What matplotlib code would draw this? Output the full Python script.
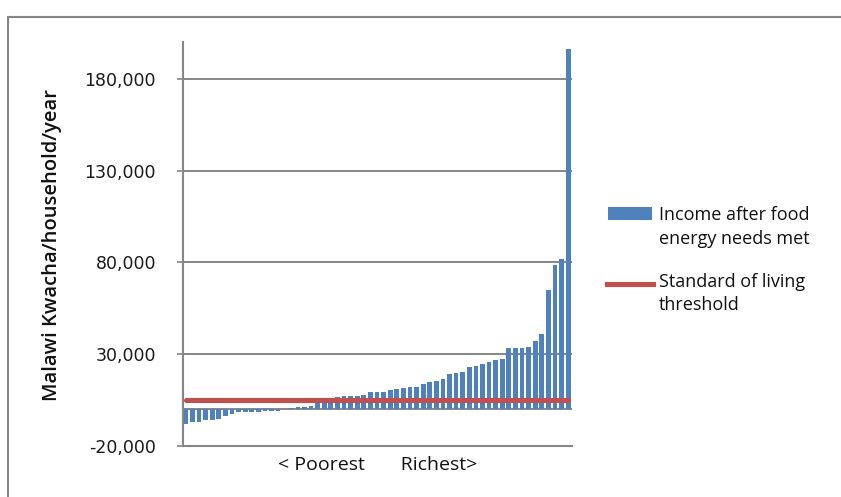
import matplotlib.pyplot as plt
import numpy as np
from matplotlib.patches import Rectangle
from matplotlib.lines import Line2D

# households sorted from poorest to richest
income = [-7800, -6900, -6900, -5600, -5600, -5100, -3500, -2400, -1500, -1500,
          -1500, -1500, -1000, -1000, -700, 100, 700, 1300, 1300, 1800,
          3800, 4500, 5500, 6700, 7200, 7200, 7200, 7800, 9400, 9400,
          9400, 10500, 11100, 11600, 12200, 12200, 13800, 14900, 15500, 16600,
          19300, 19800, 20400, 23100, 23700, 24700, 25800, 26900, 27500, 33500,
          33500, 33500, 34000, 37300, 41100, 65100, 78700, 82000, 196000]
threshold = 4800
yticks = [-20000, 30000, 80000, 130000, 180000]
legend_labels = [["Income after food", "energy needs met"],
                 ["Standard of living", "threshold"]]

W, H = 841, 497
blue = '#4F81BD'
red = '#C0504D'
gray = '#868686'
txt_font = 'Open Sans'


def fx(px):
    return px / W


def fy(py):
    return 1 - py / H


fig = plt.figure(figsize=(W / 100, H / 100), dpi=100)
ax = fig.add_axes([fx(182.5), fy(446), (571.5 - 182.5) / W, (446 - 42) / H])

x = np.arange(len(income))
ax.bar(x, income, width=0.72, color=blue, zorder=2)
ax.plot(x, np.full(len(x), threshold), color=red, lw=3.7,
        solid_capstyle='round', zorder=3)

ax.set_xlim(-0.5, len(income) - 0.5)
ax.set_ylim(-20000, 200000)
ax.set_yticks(yticks)
ax.set_yticklabels([f'{v:,}' for v in yticks], family='DejaVu Sans',
                   fontsize=12.5, color='#1a1a1a')
ax.set_xticks([])
ax.yaxis.grid(True, color=gray, lw=1.4, zorder=1)
ax.set_axisbelow(True)
ax.axhline(0, color=gray, lw=1.4, zorder=1)
for s in ['top', 'right']:
    ax.spines[s].set_visible(False)
for s in ['left', 'bottom']:
    ax.spines[s].set_color(gray)
    ax.spines[s].set_linewidth(1.5)
ax.tick_params(axis='y', length=4, width=1.2, color=gray, pad=15)

fig.text(fx(52), fy(245), 'Malawi Kwacha/household/year', rotation=90,
         ha='center', va='center', family=txt_font, fontsize=14.5,
         fontweight='semibold', color='#111111')
fig.text(fx(378), fy(465), '< Poorest       Richest>', ha='center', va='center',
         family=txt_font, fontsize=14, color='#111111')

# legend
fig.add_artist(Rectangle((fx(608), fy(220)), (652 - 608) / W, 13 / H,
                         facecolor=blue, edgecolor='none', transform=fig.transFigure))
fig.add_artist(Line2D([fx(607), fx(653)], [fy(284), fy(284)], color=red, lw=3.7,
                      transform=fig.transFigure))
for lines, base in zip(legend_labels, [220, 287]):
    for i, line in enumerate(lines):
        fig.text(fx(659), fy(base + i * 23.5), line, ha='left', va='baseline',
                 family=txt_font, fontsize=13, color='#111111')

# outer frame
fig.add_artist(Rectangle((fx(8), fy(H + 50)), 2, (H + 50 - 16.5) / H,
                         fill=False, edgecolor=gray, lw=1.5, transform=fig.transFigure))

fig.savefig('out.png', dpi=100)
